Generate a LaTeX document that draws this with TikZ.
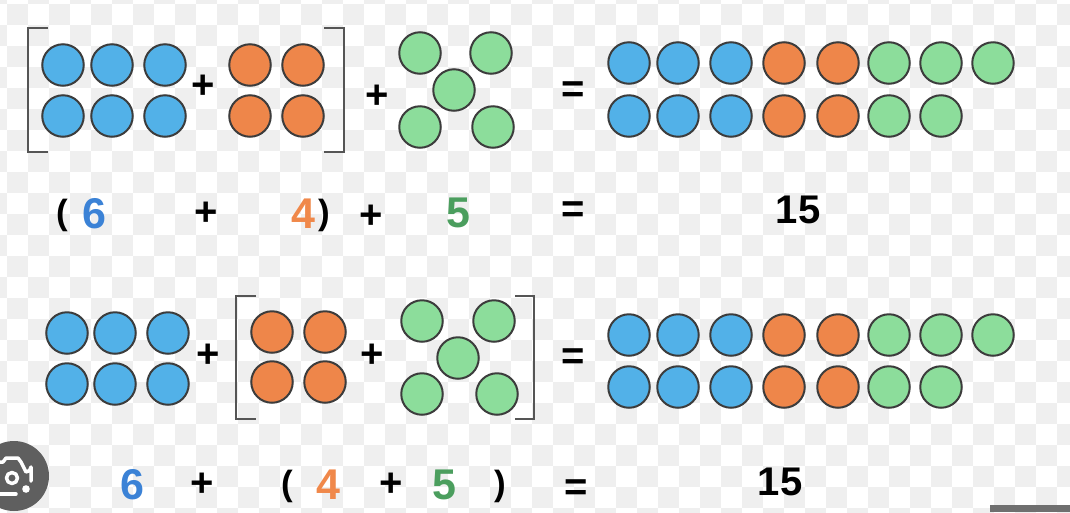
\documentclass[tikz,border=0pt]{standalone}
\usepackage{fontspec}
\setmainfont{Liberation Sans}
\definecolor{blueF}{HTML}{52B1E8}
\definecolor{orangeF}{HTML}{EE864A}
\definecolor{greenF}{HTML}{8CDD9B}
\definecolor{strokeC}{HTML}{3C3C3C}
\definecolor{blueT}{HTML}{3B82D6}
\definecolor{orangeT}{HTML}{F0884A}
\definecolor{greenT}{HTML}{4B9E5E}
\definecolor{brackC}{HTML}{555555}
\definecolor{checkC}{HTML}{EFEFEF}
\definecolor{lensC}{HTML}{5F5F5F}
\definecolor{barC}{HTML}{6F6F6F}
\tikzset{
  ball/.style={circle, draw=strokeC, line width=2pt, minimum size=41.5pt, inner sep=0pt},
  bb/.style={ball, fill=blueF},
  ob/.style={ball, fill=orangeF},
  gb/.style={ball, fill=greenF},
  txt/.style={inner sep=0pt, font=\fontsize{40}{48}\selectfont\bfseries},
  dig/.style={inner sep=0pt, font=\fontsize{43}{50}\selectfont\bfseries},
  par/.style={inner sep=0pt, font=\fontsize{35}{42}\selectfont\bfseries},
  brack/.style={draw=brackC, line width=2pt},
  lens/.style={white, line width=3.5pt, line cap=round, line join=round}
}
\begin{document}
\begin{tikzpicture}[x=1pt,y=-1pt]
\useasboundingbox (0,0) rectangle (1070,512);
\begin{scope}
\clip (0,0) rectangle (1070,512);
\fill[white] (0,0) rectangle (1070,512);
\foreach \r in {0,2,...,24}{\foreach \c in {0,2,...,52}{
  \fill[checkC] ({-13.7+21*\c},{-17+21*\r}) rectangle ++(21,21);}}
\foreach \r in {1,3,...,25}{\foreach \c in {1,3,...,53}{
  \fill[checkC] ({-13.7+21*\c},{-17+21*\r}) rectangle ++(21,21);}}
% lens icon
\fill[lensC] (14,476) circle (35);
\draw[lens] (31,481) -- (31,467) arc[start angle=0, end angle=90, radius=5] -- (21,462) -- (18,458) -- (6,458) -- (3,462) -- (-12,462);
\draw[lens] (-12,494) -- (16,494);
\draw[lens] (12,478) circle (5.5);
\fill[white] (26,489) circle (3.8);
\fill[barC] (990,505) rectangle (1070,512);
\end{scope}

% ===== Row 1: [6 + 4] + 5 = 15
\foreach \x/\y [count=\i] in {63/65,112/65,165/65,63/116,112/116,165/116}
  \node[bb] (a-b\i) at (\x,\y) {};
\foreach \x/\y [count=\i] in {250/65,303/65,250/116,303/116}
  \node[ob] (a-o\i) at (\x,\y) {};
\foreach \x/\y [count=\i] in {420/53,491/53,454/90,420/127,493/127}
  \node[gb] (a-g\i) at (\x,\y) {};
\node[txt] (a-p1) at (203,87) {+};
\node[txt] (a-p2) at (377,97) {+};
\node[txt] (a-eq) at (573,92) {=};
\draw[brack] (48,28) -- (28,28) -- (28,152) -- (48,152);
\draw[brack] (324,28) -- (344,28) -- (344,152) -- (324,152);
\foreach \x/\c [count=\i] in {629/bb,678/bb,731/bb,784/ob,838/ob,889/gb,941/gb,993/gb}
  \node[\c] (a-r\i) at (\x,63) {};
\foreach \x/\c [count=\i] in {629/bb,678/bb,731/bb,784/ob,838/ob,889/gb,941/gb}
  \node[\c] (a-s\i) at (\x,116) {};

% ===== Row 2 text
\node[par] (b-lp) at (62,215) {(};
\node[dig, text=blueT] (b-6) at (94,214) {6};
\node[txt] (b-p1) at (206,214) {+};
\node[dig, text=orangeT] (b-4) at (303,214) {4};
\node[par] (b-rp) at (324,215) {)};
\node[txt] (b-p2) at (371,217) {+};
\node[dig, text=greenT] (b-5) at (458,213) {5};
\node[txt] (b-eq) at (573,212) {=};
\node[txt] (b-15) at (798,210) {15};

% ===== Row 3: 6 + [4 + 5] = 15
\foreach \x/\y [count=\i] in {67/333,115/333,168/333,67/384,115/384,168/384}
  \node[bb] (c-b\i) at (\x,\y) {};
\foreach \x/\y [count=\i] in {272/332,325/332,272/382,325/382}
  \node[ob] (c-o\i) at (\x,\y) {};
\foreach \x/\y [count=\i] in {422/321,494/321,458/358,422/394,497/394}
  \node[gb] (c-g\i) at (\x,\y) {};
\node[txt] (c-p1) at (208,356) {+};
\node[txt] (c-p2) at (372,356) {+};
\node[txt] (c-eq) at (573,359) {=};
\draw[brack] (256,296) -- (236,296) -- (236,419) -- (256,419);
\draw[brack] (515,296) -- (534,296) -- (534,419) -- (515,419);
\foreach \x/\c [count=\i] in {629/bb,678/bb,731/bb,784/ob,838/ob,889/gb,941/gb,993/gb}
  \node[\c] (c-r\i) at (\x,335) {};
\foreach \x/\c [count=\i] in {629/bb,678/bb,731/bb,784/ob,838/ob,889/gb,941/gb}
  \node[\c] (c-s\i) at (\x,387) {};

% ===== Row 4 text
\node[dig, text=blueT] (d-6) at (132,485) {6};
\node[txt] (d-p1) at (202,485) {+};
\node[par] (d-lp) at (287,486) {(};
\node[dig, text=orangeT] (d-4) at (328,485) {4};
\node[txt] (d-p2) at (391,485) {+};
\node[dig, text=greenT] (d-5) at (444,485) {5};
\node[par] (d-rp) at (500,486) {)};
\node[txt] (d-eq) at (576,490) {=};
\node[txt] (d-15) at (780,482) {15};
\end{tikzpicture}
\end{document}
